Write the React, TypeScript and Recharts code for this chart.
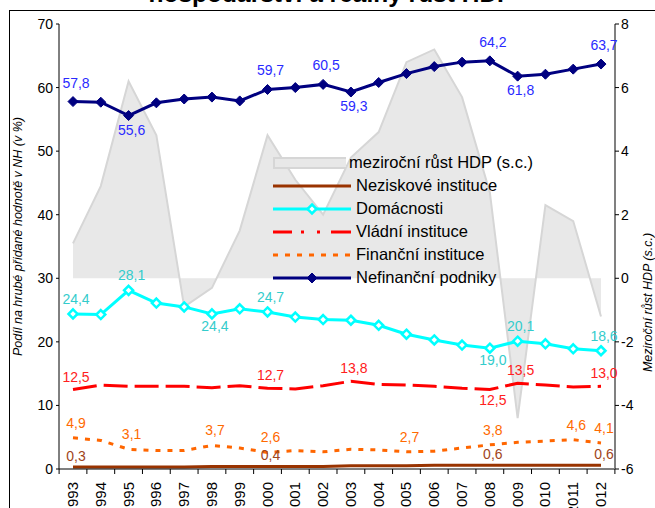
import React from 'react';
import {
  ComposedChart,
  Area,
  Line,
  XAxis,
  YAxis,
  Legend,
  LabelList,
} from 'recharts';

const FONT = 'Arial, "Liberation Sans", sans-serif';

const years = [
  '1993', '1994', '1995', '1996', '1997', '1998', '1999', '2000', '2001', '2002',
  '2003', '2004', '2005', '2006', '2007', '2008', '2009', '2010', '2011', '2012',
];
const nefinancni = [57.8, 57.7, 55.6, 57.6, 58.2, 58.5, 57.9, 59.7, 60.0, 60.5, 59.3, 60.8, 62.2, 63.3, 64.0, 64.2, 61.8, 62.1, 62.9, 63.7];
const domacnosti = [24.4, 24.3, 28.1, 26.1, 25.5, 24.4, 25.2, 24.7, 23.9, 23.5, 23.4, 22.6, 21.2, 20.3, 19.5, 19.0, 20.1, 19.7, 18.9, 18.6];
const vladni = [12.5, 13.2, 13.0, 13.0, 13.0, 12.8, 13.1, 12.7, 12.6, 13.1, 13.8, 13.3, 13.2, 13.0, 12.7, 12.5, 13.5, 13.2, 12.9, 13.0];
const financni = [4.9, 4.5, 3.1, 2.9, 2.9, 3.7, 3.3, 2.6, 2.9, 2.7, 3.1, 3.0, 2.7, 2.8, 3.3, 3.8, 4.2, 4.4, 4.6, 4.1];
const neziskove = [0.3, 0.3, 0.3, 0.3, 0.3, 0.4, 0.4, 0.4, 0.4, 0.4, 0.5, 0.5, 0.5, 0.6, 0.6, 0.6, 0.6, 0.6, 0.6, 0.6];
const rustHdp = [1.1, 2.9, 6.2, 4.5, -0.9, -0.3, 1.5, 4.5, 3.1, 2.0, 3.8, 4.6, 6.8, 7.2, 5.7, 2.7, -4.4, 2.3, 1.8, -1.2];

// which years carry a data label (above / below the point)
const nefinAbove = ['1993', '2000', '2002', '2008', '2012'];
const nefinBelow = ['1995', '2003', '2009'];
const domAbove = ['1993', '1995', '2000', '2009', '2012'];
const domBelow = ['1998', '2008'];
const vladAbove = ['1993', '2000', '2003', '2009', '2012'];
const vladBelow = ['2008'];
const finAbove = ['1993', '1995', '1998', '2000', '2005', '2008', '2011', '2012'];
const nezAbove = ['1993', '2000', '2008', '2012'];

const leftTicks = [0, 10, 20, 30, 40, 50, 60, 70];
const rightTicks = [-6, -4, -2, 0, 2, 4, 6, 8];

const data = years.map((year, i) => ({
  year,
  hdp: rustHdp[i],
  nez: neziskove[i],
  dom: domacnosti[i],
  vlad: vladni[i],
  fin: financni[i],
  nefin: nefinancni[i],
}));

const fmt = (v: number) => v.toFixed(1).replace('.', ',');

const makeLabel =
  (color: string, above: string[], below: string[], up: number, down: number) =>
  (props: any) => {
    const x = props.viewBox?.x ?? props.x;
    const y = props.viewBox?.y ?? props.y;
    const yr = years[props.index];
    let dy: number;
    if (above.includes(yr)) dy = -up;
    else if (below.includes(yr)) dy = down;
    else return null;
    return (
      <text
        x={x + 3}
        y={y + dy}
        fill={color}
        fontSize={14}
        fontFamily={FONT}
        textAnchor="middle"
        dominantBaseline="central"
      >
        {fmt(Number(props.value))}
      </text>
    );
  };

const diamond = (fill: string, stroke: string, r: number, sw: number) => (props: any) => {
  const { cx, cy, index } = props;
  if (cx == null || cy == null) return <g key={index} />;
  return (
    <path
      key={index}
      d={`M${cx},${cy - r}L${cx + r},${cy}L${cx},${cy + r}L${cx - r},${cy}Z`}
      fill={fill}
      stroke={stroke}
      strokeWidth={sw}
    />
  );
};

function YearTick(props: any) {
  const { x, y, payload, index } = props;
  const half = 13.9;
  return (
    <g>
      <line x1={x - half} x2={x - half} y1={y - 5} y2={y} stroke="#000" />
      {index === years.length - 1 && (
        <line x1={x + half} x2={x + half} y1={y - 5} y2={y} stroke="#000" />
      )}
      <text
        transform={`translate(${x + 5},${y + 8}) rotate(-90)`}
        textAnchor="end"
        fontSize={15}
        fontFamily={FONT}
        fill="#000"
      >
        {payload.value}
      </text>
    </g>
  );
}

const legendItems = [
  { name: 'meziroční růst HDP (s.c.)', kind: 'area' },
  { name: 'Neziskové instituce', kind: 'brown' },
  { name: 'Domácnosti', kind: 'cyan' },
  { name: 'Vládní instituce', kind: 'red' },
  { name: 'Finanční instituce', kind: 'orange' },
  { name: 'Nefinanční podniky', kind: 'navy' },
];

function LegendSymbol({ kind }: { kind: string }) {
  const w = 78;
  const c = 8;
  if (kind === 'area')
    return <rect x={1} y={c - 5} width={w - 2} height={10} fill="#e8e8e8" stroke="#d6d6d6" strokeWidth={2} />;
  if (kind === 'brown') return <line x1={0} x2={w} y1={c} y2={c} stroke="#993300" strokeWidth={3} />;
  if (kind === 'cyan')
    return (
      <g>
        <line x1={0} x2={w} y1={c} y2={c} stroke="#00ffff" strokeWidth={3} />
        <path d={`M39,${c - 4.5}L43.5,${c}L39,${c + 4.5}L34.5,${c}Z`} fill="#fff" stroke="#00ffff" strokeWidth={2.5} />
      </g>
    );
  if (kind === 'red')
    return <line x1={0} x2={w} y1={c} y2={c} stroke="#ff0000" strokeWidth={3} strokeDasharray="19 9 3 13 3 11 20" />;
  if (kind === 'orange')
    return <line x1={0} x2={w} y1={c} y2={c} stroke="#ff6600" strokeWidth={3} strokeDasharray="5 7" />;
  return (
    <g>
      <line x1={0} x2={w} y1={c} y2={c} stroke="#000080" strokeWidth={3} />
      <path d={`M39,${c - 5}L44,${c}L39,${c + 5}L34,${c}Z`} fill="#000080" stroke="#000080" />
    </g>
  );
}

function renderLegend() {
  return (
    <div style={{ fontFamily: FONT, fontSize: 16.5, color: '#000' }}>
      {legendItems.map((it) => (
        <div key={it.name} style={{ display: 'flex', alignItems: 'center', height: 23 }}>
          <svg width={80} height={16} style={{ marginRight: 3 }}>
            <LegendSymbol kind={it.kind} />
          </svg>
          <span style={{ whiteSpace: 'nowrap' }}>{it.name}</span>
        </div>
      ))}
    </div>
  );
}

const leftTitle = (props: any) => {
  const vb = props.viewBox;
  const cx = vb.x + 22;
  const cy = vb.y + vb.height / 2 - 10;
  return (
    <text
      transform={`translate(${cx},${cy}) rotate(-90)`}
      textAnchor="middle"
      fontSize={12.5}
      fontStyle="italic"
      fontFamily={FONT}
      fill="#000"
    >
      Podíl na hrubé přidané hodnotě v NH (v %)
    </text>
  );
};

const rightTitle = (props: any) => {
  const vb = props.viewBox;
  const cx = vb.x + 37;
  const cy = vb.y + vb.height / 2 + 56;
  return (
    <text
      transform={`translate(${cx},${cy}) rotate(-90)`}
      textAnchor="middle"
      fontSize={12.5}
      fontStyle="italic"
      fontFamily={FONT}
      fill="#000"
    >
      Meziroční růst HDP (s.c.)
    </text>
  );
};

export default function App() {
  return (
    <div
      style={{
        position: 'fixed',
        left: 0,
        top: 0,
        width: 655,
        height: 508,
        overflow: 'hidden',
        background: '#fff',
        fontFamily: FONT,
      }}
    >
      <div
        style={{
          position: 'absolute',
          left: 9,
          top: 10,
          width: 700,
          height: 600,
          border: '1px solid #000',
        }}
      />
      <div
        style={{
          position: 'absolute',
          left: 0,
          width: 662,
          top: -18,
          textAlign: 'center',
          fontWeight: 'bold',
          fontSize: 24.5,
          lineHeight: '24px',
          whiteSpace: 'nowrap',
        }}
      >
        hospodářství a reálný růst HDP
      </div>
      <div style={{ position: 'absolute', left: 0, top: 0 }}>
        <ComposedChart
          width={655}
          height={508}
          data={data}
          margin={{ top: 24, right: 0, bottom: 0, left: 0 }}
          style={{ fontFamily: FONT }}
        >
          <XAxis
            dataKey="year"
            xAxisId="x"
            interval={0}
            height={39}
            padding={{ left: 14, right: 14 }}
            tickLine={false}
            tickSize={5}
            tickMargin={0}
            tick={<YearTick />}
            stroke="#000"
          />
          <YAxis
            yAxisId="left"
            width={59}
            domain={[0, 70]}
            ticks={leftTicks}
            interval={0}
            tickSize={3}
            tickMargin={3}
            stroke="#000"
            tick={{ fill: '#000', fontSize: 14, fontFamily: FONT }}
            label={leftTitle}
          />
          <YAxis
            yAxisId="right"
            orientation="right"
            width={40}
            domain={[-6, 8]}
            ticks={rightTicks}
            interval={0}
            tickSize={4}
            tickMargin={2}
            stroke="#808080"
            axisLine={{ stroke: '#808080', strokeWidth: 2 }}
            tickLine={{ stroke: '#000' }}
            tick={{ fill: '#000', fontSize: 14, fontFamily: FONT }}
            label={rightTitle}
          />
          <Area
            xAxisId="x"
            yAxisId="right"
            type="linear"
            dataKey="hdp"
            name="meziroční růst HDP (s.c.)"
            fill="#e8e8e8"
            fillOpacity={1}
            stroke="#d6d6d6"
            strokeWidth={2}
            isAnimationActive={false}
          />
          <Line
            xAxisId="x"
            yAxisId="left"
            type="linear"
            dataKey="nez"
            name="Neziskové instituce"
            stroke="#993300"
            strokeWidth={3}
            dot={false}
            isAnimationActive={false}
          >
            <LabelList dataKey="nez" content={makeLabel('#a0441a', nezAbove, [], 11, 10)} />
          </Line>
          <Line
            xAxisId="x"
            yAxisId="left"
            type="linear"
            dataKey="dom"
            name="Domácnosti"
            stroke="#00ffff"
            strokeWidth={3}
            dot={diamond('#fff', '#00ffff', 4.5, 2.5)}
            isAnimationActive={false}
          >
            <LabelList dataKey="dom" content={makeLabel('#33cccc', domAbove, domBelow, 15, 12)} />
          </Line>
          <Line
            xAxisId="x"
            yAxisId="left"
            type="linear"
            dataKey="vlad"
            name="Vládní instituce"
            stroke="#ff0000"
            strokeWidth={3}
            strokeDasharray="24 7"
            dot={false}
            isAnimationActive={false}
          >
            <LabelList dataKey="vlad" content={makeLabel('#ff2020', vladAbove, vladBelow, 13, 10)} />
          </Line>
          <Line
            xAxisId="x"
            yAxisId="left"
            type="linear"
            dataKey="fin"
            name="Finanční instituce"
            stroke="#ff6600"
            strokeWidth={3}
            strokeDasharray="5 7"
            dot={false}
            isAnimationActive={false}
          >
            <LabelList dataKey="fin" content={makeLabel('#ff6a00', finAbove, [], 15, 10)} />
          </Line>
          <Line
            xAxisId="x"
            yAxisId="left"
            type="linear"
            dataKey="nefin"
            name="Nefinanční podniky"
            stroke="#000080"
            strokeWidth={3}
            dot={diamond('#000080', '#000080', 5, 1)}
            isAnimationActive={false}
          >
            <LabelList dataKey="nefin" content={makeLabel('#2a2aff', nefinAbove, nefinBelow, 19, 14)} />
          </Line>
          <Legend
            layout="horizontal"
            verticalAlign="middle"
            align="center"
            content={renderLegend}
            wrapperStyle={{ left: 273, top: 151, width: 260, height: 140 }}
          />
        </ComposedChart>
      </div>
    </div>
  );
}
